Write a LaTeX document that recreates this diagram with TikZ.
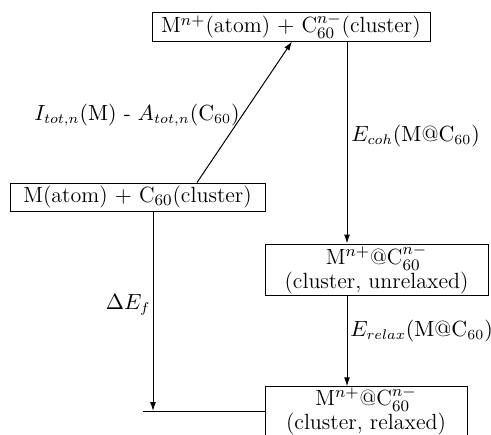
\documentclass[tikz,border=0pt]{standalone}
\usetikzlibrary{arrows.meta}
\begin{document}
\begin{tikzpicture}[x=0.5pt,y=-0.5pt,
  box/.style={draw,line width=0.5pt,inner sep=0pt,font=\fontsize{11}{12}\selectfont,align=center},
  arr/.style={line width=0.5pt,-{Latex[length=4.5pt,width=3pt]}},
  lbl/.style={inner sep=0pt,font=\fontsize{10.5}{12}\selectfont}]
\useasboundingbox (0,0) rectangle (491,434);
\clip (0,0) rectangle (491,434);
\node[box,minimum width=278*0.5pt,minimum height=29*0.5pt] (top) at (291,26.5)
  {M$^{n+}$(atom) $+$ C$_{60}^{n-}$(cluster)};
\node[box,minimum width=255*0.5pt,minimum height=28*0.5pt] (left) at (137.5,197)
  {M(atom) $+$ C$_{60}$(cluster)};
\node[box,minimum width=223*0.5pt,minimum height=51*0.5pt] (mid) at (376.5,269.5)
  {M$^{n+}$@C$_{60}^{n-}$\\(cluster, unrelaxed)};
\node[box,minimum width=202*0.5pt,minimum height=48*0.5pt] (bot) at (366,411)
  {M$^{n+}$@C$_{60}^{n-}$\\(cluster, relaxed)};
\draw[arr] (left.north -| 197,0) -- (top.south -| 292,0);
\draw[arr] (top.south -| 347,0) -- (mid.north -| 347,0);
\draw[arr] (mid.south -| 347,0) -- (bot.north -| 347,0);
\draw[arr] (left.south -| 153,0) -- (bot.west -| 153,0);
\draw[line width=0.5pt] (bot.west) -- (bot.west -| 143,0);
\node[lbl] (l1) at (137,115) {$I_{tot,n}(\mathrm{M})$ - $A_{tot,n}(\mathrm{C}_{60})$};
\node[lbl,anchor=west] (l2) at (351,136) {$E_{coh}(\mathrm{M@C}_{60})$};
\node[lbl,anchor=east] (l3) at (151,305) {$\Delta E_f$};
\node[lbl,anchor=west] (l4) at (350,331) {$E_{relax}(\mathrm{M@C}_{60})$};
\end{tikzpicture}
\end{document}
